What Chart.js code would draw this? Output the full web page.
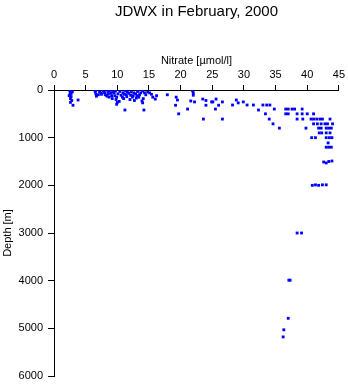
<!DOCTYPE html>
<html>
<head>
<meta charset="utf-8">
<script src="https://cdn.jsdelivr.net/npm/chart.js@4/dist/chart.umd.min.js"></script>
<style>
  body { margin: 0; background: #fff; }
</style>
</head>
<body>
<canvas id="profileChart" width="348" height="384"></canvas>
<script>
// Nitrate profile, station JDWX, February 2000
const nitrate = [
  2.5, 2.6, 2.5, 2.7, 2.6, 2.8, 2.9, 2.4, 3.0, 3.8, 2.6, 2.7,
  6.5, 6.6, 6.7, 7.2, 7.5, 7.8, 8.0, 8.3, 8.5, 8.7, 9.0, 9.2, 9.4, 9.6, 9.8, 10.0, 9.9, 10.1, 8.9, 7.0,
  6.6, 7.4, 8.1, 8.6, 9.1, 9.5, 9.9, 7.9, 8.4, 9.7,
  10.4, 10.6, 10.9, 11.0, 11.3, 11.5, 11.8, 12.0, 12.2, 12.5, 12.7, 12.9, 13.2, 13.4, 13.7, 14.0, 14.1, 14.0, 14.5, 14.8, 11.2, 14.2, 10.3,
  10.8, 11.1, 11.6, 12.1, 12.6, 13.0, 13.5, 13.9, 14.3, 12.4, 11.4, 13.1,
  15.4, 15.6, 16.0, 16.2, 17.9, 15.1,
  19.3, 19.5, 19.2, 19.7, 21.9, 22.0, 22.0, 21.6, 22.2, 21.1, 23.5, 24.0, 24.0, 24.9, 25.1, 25.6, 26.0, 26.6, 23.6, 26.6, 25.5,
  28.2, 28.8, 29.1, 29.9, 30.5, 31.5, 32.3, 33.0, 33.6, 34.1, 33.4, 34.0, 34.6, 34.8, 35.6,
  36.6, 37.0, 37.6, 38.0, 36.6, 37.0, 38.4, 38.4, 39.2, 39.2, 39.3, 39.8, 40.0, 41.0, 40.6, 41.0, 41.5, 42.0, 42.4, 43.6,
  41.0, 41.6, 42.2, 42.8, 43.2, 44.0, 41.8, 42.2, 43.0, 43.4, 43.8, 41.9, 42.3, 43.0, 43.6,
  40.7, 41.3, 43.0, 43.5, 43.9, 43.3, 43.0, 43.4, 43.8,
  42.6, 43.0, 43.4, 43.9, 40.8, 41.3, 41.8, 42.4, 43.0, 38.4, 39.1, 37.1, 37.3, 37.0, 36.3, 36.2
];
const depth = [
  20, 60, 100, 140, 180, 220, 40, 120, 320, 210, 260, 80,
  30, 80, 130, 40, 90, 20, 60, 110, 30, 150, 70, 180, 40, 120, 200, 260, 300, 80, 20, 100,
  10, 60, 100, 80, 120, 60, 150, 40, 130, 20,
  30, 110, 60, 180, 20, 140, 70, 200, 40, 120, 220, 80, 30, 150, 60, 20, 180, 270, 100, 40, 420, 420, 240,
  150, 90, 40, 110, 60, 170, 100, 230, 60, 150, 100, 120,
  90, 150, 190, 120, 100, 60,
  150, 210, 320, 500, 20, 60, 110, 230, 250, 400, 190, 220, 320, 250, 250, 190, 320, 250, 610, 610, 400,
  315, 210, 270, 250, 315, 315, 420, 315, 315, 315, 500, 610, 710, 400, 800,
  400, 400, 400, 400, 500, 500, 500, 610, 400, 500, 610, 800, 500, 500, 610, 610, 610, 610, 610, 610,
  710, 710, 710, 710, 710, 710, 800, 800, 800, 800, 800, 900, 900, 900, 900,
  1000, 1000, 1000, 1000, 1000, 1110, 1200, 1200, 1200,
  1510, 1530, 1500, 1490, 2000, 1990, 2000, 1990, 1990, 3000, 3000, 3990, 3990, 4790, 5030, 5180
];
const nitrateTicks = [0, 5, 10, 15, 20, 25, 30, 35, 40, 45];
const depthTicks = [0, 1000, 2000, 3000, 4000, 5000, 6000];

const font = 'Liberation Sans, Arial, Helvetica, sans-serif';
Chart.defaults.font.family = font;
Chart.defaults.color = '#000';

const points = nitrate.map((n, i) => ({ x: n, y: depth[i] }));

new Chart(document.getElementById('profileChart').getContext('2d'), {
    type: 'scatter',
    data: {
        datasets: [{
            label: 'Nitrate',
            data: points,
            pointStyle: 'rect',
            pointRadius: 2,
            pointBorderWidth: 0,
            backgroundColor: '#0000ff',
            borderColor: '#0000ff'
        }]
    },
    options: {
        responsive: false,
        animation: false,
        layout: { padding: { left: 0, right: 8, top: 0, bottom: 0 } },
        plugins: {
            legend: { display: false },
            tooltip: { enabled: false },
            title: {
                display: true,
                fullSize: false,
                text: 'JDWX in February, 2000',
                font: { size: 15, weight: 'normal' },
                padding: { top: 3, bottom: 0 }
            }
        },
        scales: {
            x: {
                type: 'linear',
                position: 'top',
                min: 0,
                max: 45,
                afterFit: s => { s.height = 69; },
                afterBuildTicks: s => { s.ticks = nitrateTicks.map(v => ({ value: v })); },
                ticks: { font: { size: 11 }, padding: 3, maxRotation: 0 },
                grid: { drawOnChartArea: false, tickLength: 5, color: '#000' },
                border: { color: '#000', width: 1 },
                title: {
                    display: true,
                    text: 'Nitrate [µmol/l]',
                    font: { size: 11 },
                    padding: { top: 33, bottom: 0 }
                }
            },
            y: {
                type: 'linear',
                position: 'left',
                reverse: true,
                min: 0,
                max: 6000,
                afterFit: s => { s.width = 54; s.paddingBottom = 8; },
                afterBuildTicks: s => { s.ticks = depthTicks.map(v => ({ value: v })); },
                ticks: { font: { size: 11 }, padding: 5, callback: v => String(v) },
                grid: { drawOnChartArea: false, tickLength: 6, color: '#000' },
                border: { color: '#000', width: 1 },
                title: {
                    display: true,
                    text: 'Depth [m]',
                    font: { size: 11 },
                    padding: { top: 1, bottom: 0 }
                }
            }
        }
    }
});
</script>
</body>
</html>
